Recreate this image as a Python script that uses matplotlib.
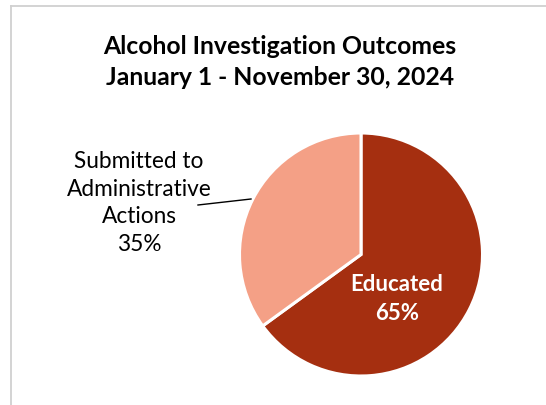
import matplotlib
matplotlib.use("Agg")
import matplotlib.pyplot as plt
from matplotlib.lines import Line2D

categories = ["Educated", "Submitted to\nAdministrative\nActions"]
values = [65, 35]
colors = ["#A52F10", "#F4A086"]
title = "Alcohol Investigation Outcomes\nJanuary 1 - November 30, 2024"

W, H = 546, 405
fig = plt.figure(figsize=(W / 100, H / 100), dpi=100)
fig.patch.set_facecolor("white")

# border (top + left visible)
fig.add_artist(Line2D([10.5 / W, 10.5 / W], [0, 1 - 5.5 / H], color="#D0D0D0", lw=1.3))
fig.add_artist(Line2D([10.5 / W, 1], [1 - 5.5 / H, 1 - 5.5 / H], color="#D0D0D0", lw=1.3))

cx, cy, r = 361, 254.5, 121.5
ax = fig.add_axes([(cx - r) / W, (H - cy - r) / H, 2 * r / W, 2 * r / H])
wedges, _ = ax.pie(values, colors=colors, startangle=90, counterclock=False,
                   radius=1, wedgeprops=dict(edgecolor="white", linewidth=2.2))
ax.set_xlim(-1, 1)
ax.set_ylim(-1, 1)
ax.set_aspect("equal")
ax.axis("off")

font = "Lato"
fig.text((W / 2 + 7) / W, 1 - 62 / H, title, ha="center", va="center",
         fontsize=17.8, fontweight="bold", family=font, linespacing=1.42)

def px(x, y):
    return ((x - cx) / r, (cy - y) / r)

# inside label
ix, iy = px(397, 299)
ax.text(ix, iy, f"{categories[0]}\n{values[0]}%", ha="center", va="center",
        color="white", fontsize=16, fontweight="bold", family=font, linespacing=1.45)

# outside label with leader line
lx, ly = px(139, 203)
ax.text(lx, ly, f"{categories[1]}\n{values[1]}%", ha="center", va="center",
        color="black", fontsize=16.3, family=font, linespacing=1.4, clip_on=False)
a0 = px(198, 205)
a1 = px(251, 199)
ax.add_line(Line2D([a0[0], a1[0]], [a0[1], a1[1]], color="black", lw=1, clip_on=False))

fig.savefig("out.png", dpi=100, facecolor="white")
